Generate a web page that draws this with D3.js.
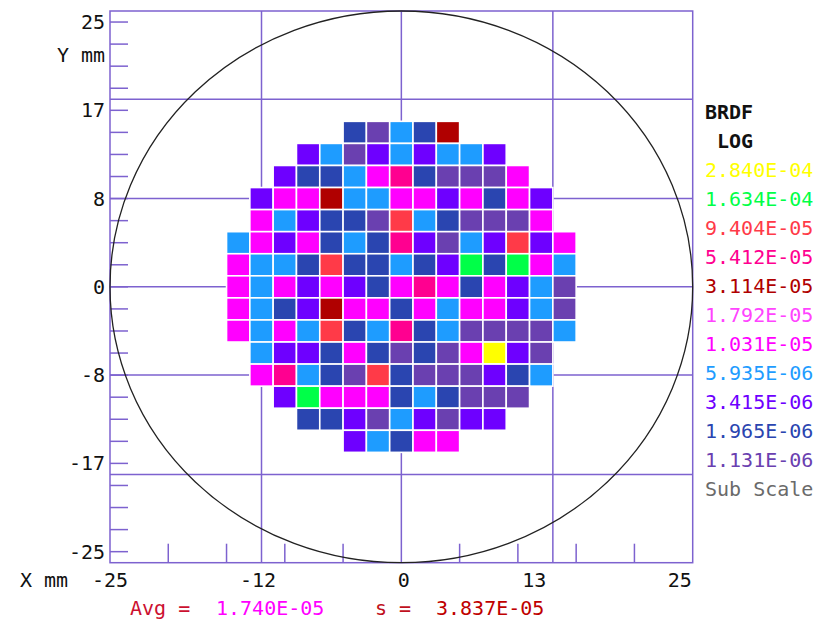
<!DOCTYPE html>
<html>
<head>
<meta charset="utf-8">
<script src="https://cdn.jsdelivr.net/npm/d3@7"></script>
<style>
  body { margin: 0; background: #fff; }
  text { font-family: "DejaVu Sans Mono", monospace; font-size: 20px; }
</style>
</head>
<body>
<div id="container"></div>
<script>
let w = 833;
let h = 621;

// legend levels (BRDF, log scale), top to bottom
let levelLabels = ["2.840E-04", "1.634E-04", "9.404E-05", "5.412E-05", "3.114E-05", "1.792E-05",
                   "1.031E-05", "5.935E-06", "3.415E-06", "1.965E-06", "1.131E-06"];
let levelValues = [2.840e-4, 1.634e-4, 9.404e-5, 5.412e-5, 3.114e-5, 1.792e-5,
                   1.031e-5, 5.935e-6, 3.415e-6, 1.965e-6, 1.131e-6];
let levelColors = ["#ffff00", "#00ff48", "#ff3a48", "#ff0090", "#b00000", "#ff44ff",
                   "#ff00ff", "#1e9cff", "#6e00ff", "#2a45b0", "#6a40b0"];
// letter code used in the map rows -> level index
let levelCodes = ["Y", "G", "R", "P", "D", "L", "M", "B", "V", "N", "U"];

// measured map, 15 x 15 sites of 2 mm, top row first (y = +14 mm), left column x = -14 mm
let mapRows = [
  ".....NUBND.....",
  "...VBUVBVBBV...",
  "..VNNBMPNUUUM..",
  ".VMMDBBMMVMNMV.",
  ".MBVNNURBNUUUM.",
  "BMVMNBNPVUBVRVM",
  "MBBNRNNBNVGNGMB",
  "MBMVMVNMPMNMVBU",
  "MBNVDMMNMBMMVBU",
  "MBMBRNBPNBUUUUB",
  ".BVVNMNUNUMYVU.",
  ".MPBNURNUUUVNB.",
  "..VGMMMNBNUUU..",
  "...NNVUBVUVV...",
  ".....VBNMM....."
];

let xGrid = [-12, 0, 13];
let yGrid = [-17, -8, 0, 8, 17];
let xMinor = [-20, -15, -10, -5, 5, 10, 15, 20];
let yMinor = d3.range(-24, 25, 2);
let xTickLabels = ["-25", "-12", "0", "13", "25"];
let xTickAt = [-25, -12.3, 0.2, 11.4, 23.9];
let yTickLabels = ["25", "17", "8", "0", "-8", "-17", "-25"];
let yTickAt = [24, 16, 8, 0, -8, -16, -24];
let waferRadius = 25;
let avgValue = "1.740E-05";
let sigmaValue = "3.837E-05";

let gridColor = "#7d62cf";

let viz = d3.select("#container")
  .append("svg")
    .attr("width", w)
    .attr("height", h)
;

let xScale = d3.scaleLinear().domain([-25, 25]).range([110, 692.7]);
let yScale = d3.scaleLinear().domain([-25, 25]).range([562.7, 11]);
let colorScale = d3.scaleOrdinal().domain(levelValues).range(levelColors);

// grid lines
let gridGroup = viz.append("g").attr("class", "grid");
gridGroup.selectAll(".vgrid").data(xGrid).enter()
  .append("line")
    .attr("x1", d => xScale(d)).attr("x2", d => xScale(d))
    .attr("y1", yScale(25)).attr("y2", yScale(-25))
    .attr("stroke", gridColor).attr("stroke-width", 1.5)
;
gridGroup.selectAll(".hgrid").data(yGrid).enter()
  .append("line")
    .attr("x1", xScale(-25)).attr("x2", xScale(25))
    .attr("y1", d => yScale(d)).attr("y2", d => yScale(d))
    .attr("stroke", gridColor).attr("stroke-width", 1.5)
;

// minor ticks
gridGroup.selectAll(".xminor").data(xMinor).enter()
  .append("line")
    .attr("x1", d => xScale(d)).attr("x2", d => xScale(d))
    .attr("y1", yScale(-25)).attr("y2", yScale(-25) - 19)
    .attr("stroke", gridColor).attr("stroke-width", 1.5)
;
gridGroup.selectAll(".yminor").data(yMinor).enter()
  .append("line")
    .attr("x1", xScale(-25)).attr("x2", xScale(-25) + 18)
    .attr("y1", d => yScale(d)).attr("y2", d => yScale(d))
    .attr("stroke", gridColor).attr("stroke-width", 1.5)
;

// frame
viz.append("rect")
  .attr("x", xScale(-25)).attr("y", yScale(25))
  .attr("width", xScale(25) - xScale(-25))
  .attr("height", yScale(-25) - yScale(25))
  .attr("fill", "none").attr("stroke", gridColor).attr("stroke-width", 1.5)
;

// wafer outline
viz.append("ellipse")
  .attr("cx", xScale(0)).attr("cy", yScale(0))
  .attr("rx", xScale(waferRadius) - xScale(0))
  .attr("ry", yScale(-waferRadius) - yScale(0))
  .attr("fill", "none").attr("stroke", "#222").attr("stroke-width", 1.3)
;

// restructure map into cells
let cells = [];
mapRows.forEach(function(row, r){
  row.split("").forEach(function(code, c){
    let idx = levelCodes.indexOf(code);
    if (idx < 0) return;
    cells.push({x: -14 + 2 * c, y: 14 - 2 * r, value: levelValues[idx]});
  });
});

let cellGroup = viz.append("g").attr("class", "cells");
cellGroup.selectAll(".cell").data(cells).enter()
  .append("rect")
    .attr("class", "cell")
    .attr("x", d => xScale(d.x - 1))
    .attr("y", d => yScale(d.y + 1))
    .attr("width", d => xScale(d.x + 1) - xScale(d.x - 1))
    .attr("height", d => yScale(d.y - 1) - yScale(d.y + 1))
    .attr("fill", d => colorScale(d.value))
    .attr("stroke", "#fff")
    .attr("stroke-width", 1.6)
;

// axis labels
let labelGroup = viz.append("g").attr("class", "labels");
labelGroup.selectAll(".xlab").data(xTickLabels).enter()
  .append("text")
    .text(d => d)
    .attr("x", (d, i) => xScale(xTickAt[i]))
    .attr("y", 587)
    .attr("text-anchor", "middle")
    .attr("fill", "#111")
;
labelGroup.selectAll(".ylab").data(yTickLabels).enter()
  .append("text")
    .text(d => d)
    .attr("x", 105)
    .attr("y", (d, i) => yScale(yTickAt[i]) + 7)
    .attr("text-anchor", "end")
    .attr("fill", "#111")
;
labelGroup.append("text").text("Y mm").attr("x", 57).attr("y", 62).attr("fill", "#111");
labelGroup.append("text").text("X mm").attr("x", 20).attr("y", 587).attr("fill", "#111");

// legend
let legend = viz.append("g").attr("class", "legend");
legend.append("text").text("BRDF").attr("x", 705).attr("y", 119)
  .attr("font-weight", "bold").attr("fill", "#111");
legend.append("text").text("LOG").attr("x", 717).attr("y", 148)
  .attr("font-weight", "bold").attr("fill", "#111");
legend.selectAll(".lev").data(levelLabels).enter()
  .append("text")
    .text(d => d)
    .attr("x", 705)
    .attr("y", (d, i) => 177 + i * 29)
    .attr("fill", (d, i) => levelColors[i])
;
legend.append("text").text("Sub Scale").attr("x", 705).attr("y", 177 + levelLabels.length * 29)
  .attr("fill", "#6a6a6a");

// statistics line
let stats = viz.append("g").attr("class", "stats");
stats.append("text").text("Avg =").attr("x", 130).attr("y", 615).attr("fill", "#cc1030");
stats.append("text").text(avgValue).attr("x", 216).attr("y", 615).attr("fill", "#ff00ff");
stats.append("text").text("s =").attr("x", 375).attr("y", 615).attr("fill", "#c01020");
stats.append("text").text(sigmaValue).attr("x", 436).attr("y", 615).attr("fill", "#c00000");
</script>
</body>
</html>
